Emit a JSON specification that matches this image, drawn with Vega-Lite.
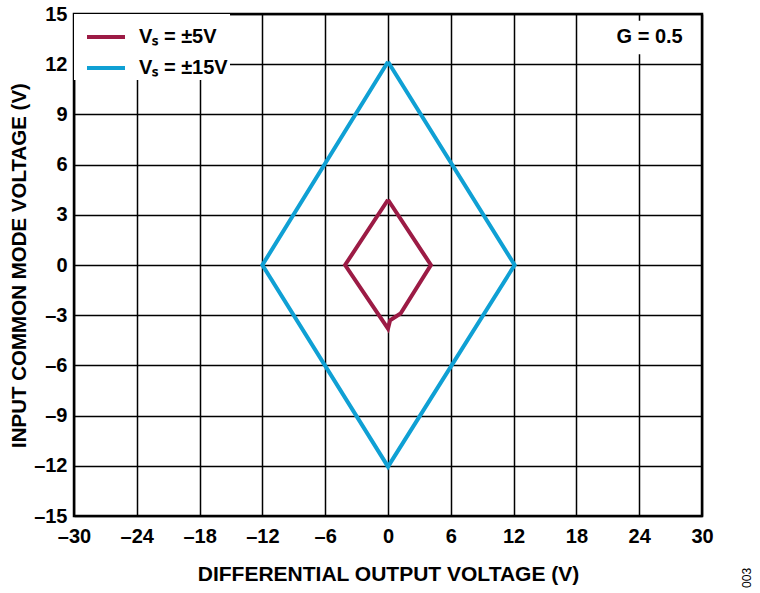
{
  "$schema": "https://vega.github.io/schema/vega-lite/v6.json",
  "width": 628,
  "height": 502,
  "autosize": "none",
  "padding": {"left": 74, "top": 14, "right": 58, "bottom": 77},
  "background": "white",
  "config": {
    "font": "Liberation Sans",
    "view": {"stroke": "black", "strokeWidth": 2.5},
    "axis": {
      "grid": true, "gridColor": "black", "gridWidth": 1.5, "gridOpacity": 1,
      "domain": false, "ticks": false, "labelFlush": false, "labelOverlap": false,
      "labelFont": "Liberation Sans", "labelFontWeight": "bold", "labelFontSize": 20, "labelColor": "black",
      "titleFont": "Liberation Sans", "titleFontWeight": "bold", "titleFontSize": 21, "titleColor": "black"
    }
  },
  "datasets": {
    "curves": [
      {"series": "Vₛ = ±5V", "order": 1, "x": 0, "y": 3.9},
      {"series": "Vₛ = ±5V", "order": 2, "x": 4.1, "y": 0},
      {"series": "Vₛ = ±5V", "order": 3, "x": 1.2, "y": -2.9},
      {"series": "Vₛ = ±5V", "order": 4, "x": 0.2, "y": -3.3},
      {"series": "Vₛ = ±5V", "order": 5, "x": 0, "y": -3.8},
      {"series": "Vₛ = ±5V", "order": 6, "x": -4.1, "y": 0},
      {"series": "Vₛ = ±5V", "order": 7, "x": 0, "y": 3.9},
      {"series": "Vₛ = ±15V", "order": 1, "x": 0, "y": 12.15},
      {"series": "Vₛ = ±15V", "order": 2, "x": 12.1, "y": 0},
      {"series": "Vₛ = ±15V", "order": 3, "x": 0, "y": -12.05},
      {"series": "Vₛ = ±15V", "order": 4, "x": -12.0, "y": 0},
      {"series": "Vₛ = ±15V", "order": 5, "x": 0, "y": 12.15}
    ],
    "gbox": [{"x1": 21.0, "x2": 29.5, "y1": 12.6, "y2": 14.6, "label": "G = 0.5", "tx": 25.0, "ty": 13.6}],
    "fig": [{"x": 34.3, "y": -18.7, "label": "003"}]
  },
  "layer": [
    {
      "data": {"name": "curves"},
      "mark": {"type": "line", "strokeWidth": 4, "strokeJoin": "miter"},
      "encoding": {
        "x": {"field": "x", "type": "quantitative",
              "scale": {"domain": [-30, 30], "nice": false, "zero": false},
              "axis": {"values": [-30, -24, -18, -12, -6, 0, 6, 12, 18, 24, 30], "title": "DIFFERENTIAL OUTPUT VOLTAGE (V)", "labelPadding": 10, "titlePadding": 17,
                       "labelExpr": "replace(replace(datum.label, '−', '–'), '-', '–')"}},
        "y": {"field": "y", "type": "quantitative",
              "scale": {"domain": [-15, 15], "nice": false, "zero": false},
              "axis": {"values": [-15, -12, -9, -6, -3, 0, 3, 6, 9, 12, 15], "title": "INPUT COMMON MODE VOLTAGE (V)", "labelPadding": 7, "titlePadding": 4, "titleFontSize": 20.5,
                       "labelExpr": "replace(replace(datum.label, '−', '–'), '-', '–')"}},
        "order": {"field": "order", "type": "quantitative"},
        "color": {"field": "series", "type": "nominal",
                  "scale": {"domain": ["Vₛ = ±5V", "Vₛ = ±15V"], "range": ["#9c1b45", "#0fa0d4"]},
                  "legend": {"title": null, "orient": "top-left", "offset": 0, "fillColor": "white",
                             "symbolType": "stroke", "symbolSize": 1444, "symbolStrokeWidth": 4, "symbolOffset": 9,
                             "labelFont": "Liberation Sans", "labelFontWeight": "bold", "labelFontSize": 20, "labelColor": "black",
                             "rowPadding": -10, "padding": 2, "labelOffset": 12}}
      }
    },
    {
      "data": {"name": "gbox"},
      "mark": {"type": "rect", "fill": "white"},
      "encoding": {
        "x": {"field": "x1", "type": "quantitative"},
        "x2": {"field": "x2"},
        "y": {"field": "y1", "type": "quantitative"},
        "y2": {"field": "y2"}
      }
    },
    {
      "data": {"name": "gbox"},
      "mark": {"type": "text", "font": "Liberation Sans", "fontWeight": "bold", "fontSize": 20, "color": "black"},
      "encoding": {
        "x": {"field": "tx", "type": "quantitative"},
        "y": {"field": "ty", "type": "quantitative"},
        "text": {"field": "label"}
      }
    },
    {
      "data": {"name": "fig"},
      "mark": {"type": "text", "font": "Liberation Sans", "fontSize": 12, "angle": 270, "color": "black", "clip": false},
      "encoding": {
        "x": {"field": "x", "type": "quantitative"},
        "y": {"field": "y", "type": "quantitative"},
        "text": {"field": "label"}
      }
    }
  ]
}
